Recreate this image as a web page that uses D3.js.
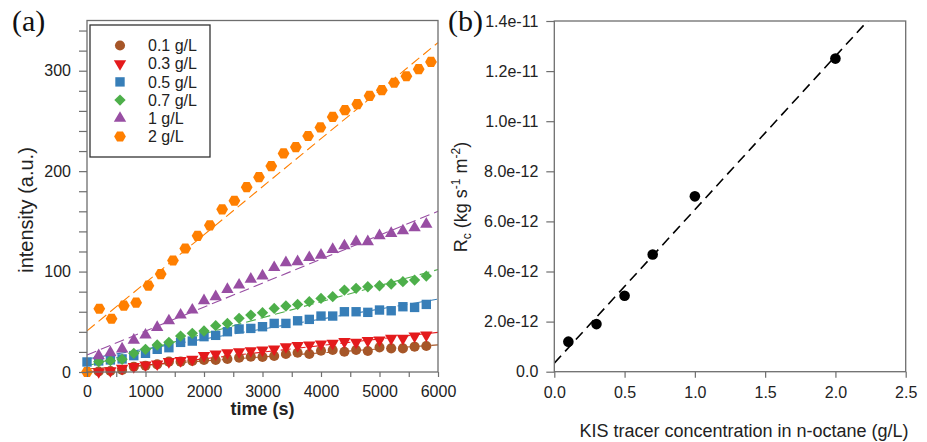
<!DOCTYPE html>
<html><head><meta charset="utf-8">
<script src="https://cdn.jsdelivr.net/npm/d3@7"></script>
<style>
html,body{margin:0;padding:0;background:#fff;}
svg{display:block;font-family:"Liberation Sans",Arial,sans-serif;}
</style></head>
<body><svg id="chart" width="927" height="442"></svg>
<script>
// ---------- Panel (a) data ----------
const seriesNames = ["0.1 g/L","0.3 g/L","0.5 g/L","0.7 g/L","1 g/L","2 g/L"];
const seriesColors = ["#a65628","#e41a1c","#377eb8","#4daf4a","#984ea3","#ff7f00"];
const seriesShapes = ["circle","triangleDown","square","diamond","triangleUp","hexagon"];

const times200 = [200,400,600,800,1000,1200,1400,1600,1800,2000,2200,2400,2600,2800,3000,
                  3200,3400,3600,3800,4000,4200,4400,4600,4800,5000,5200,5400,5600,5800];
const timesBlue = [0,200,400,600,800,1000,1200,1400,1600,1800,2000,2200,2400,2600,2800,3000,
                  3200,3400,3600,3800,4000,4200,4400,4600,4800,5000,5200,5400,5600,5800];
const timesOrange = [0,210,420,630,840,1050,1260,1470,1680,1890,2100,2310,2520,2730,2940,3150,
                  3360,3570,3780,3990,4200,4410,4620,4830,5040,5250,5460,5670,5880];

const val01 = [0.5,1,2,5.3,6.3,7.6,10.3,10.3,10.9,11.9,11.9,12.9,14.3,15.3,15,
               15.9,17.9,19.2,17.9,21.2,21.9,20.2,21.9,20.9,24.5,23.5,23.5,25.2,25.9];
const val03 = [0.3,1.3,3.6,5.3,7,8,10.3,11.3,12.6,16.3,17.9,19.2,20.2,21.2,21.9,
               22.9,25.2,26.2,26.9,27.9,28.5,30.2,29.5,31.2,31.8,33.5,33.5,35.8,36.8];
const val05 = [10,11,12,13,16.3,18.6,22.6,24.2,29.5,30.8,35.2,36.5,40.1,42.8,43.4,45.1,
               48.4,48.4,51,52.4,55.7,55.7,60,60,59.4,61.7,61,65,64.3,67.3];
const val07 = [10.3,11.3,12.6,18.6,22.6,26.9,29.5,35.8,38.5,40.8,46.1,48.4,53.4,56.7,59,
               63.3,65.7,67.3,70,73.3,75,81.6,83.3,84.9,85.9,87.6,89.9,91.5,95.5];
const val1  = [16.3,19.2,22.9,31.8,36.8,44.4,51,56.7,61.7,71,75,82.3,86.6,92.5,95.7,
               104,108.8,109.8,114,116.4,122,125.7,129.7,129.7,135.7,138,140.6,143.6,147.3];
const val2  = [0,63,53,66,69,86,97.5,111,123,135.6,146,162,170.5,184,194,205,217.6,224,235,
               243.5,254,260.7,266.7,275,280.6,288,294.5,301.5,308.8];

// linear fit lines: value at t=0 and at t=6000
const fitStart = [3, 0, 13, 6, 17, 41];
const fitEnd   = [27, 39.5, 72.6, 102, 160, 328];

const xTicksA = [0,1000,2000,3000,4000,5000,6000];
const yTicksA = [0,100,200,300];

// ---------- Panel (b) data ----------
const concB = [0.1,0.3,0.5,0.7,1.0,2.0];
const rcB   = [1.2e-12,1.9e-12,3.03e-12,4.68e-12,7.0e-12,12.5e-12];
const fitB  = {x0:0, y0:0.34e-12, x1:2.5, y1:15.66e-12};
const xTicksB = [0,0.5,1.0,1.5,2.0,2.5];
const yTicksB = [0,2e-12,4e-12,6e-12,8e-12,1e-11,1.2e-11,1.4e-11];
const yTickLabelsB = ["0.0","2.0e-12","4.0e-12","6.0e-12","8.0e-12","1.0e-11","1.2e-11","1.4e-11"];

// ---------- drawing ----------
const svg = d3.select("#chart");
const frameColor = "#6e6e6e";
const textColor = "#222";

const seriesTimes = [times200,times200,timesBlue,times200,times200,timesOrange];
const seriesVals = [val01,val03,val05,val07,val1,val2];

const hexagon = {draw(ctx,size){const r=Math.sqrt(size/(1.5*Math.sqrt(3)));
  for(let i=0;i<6;i++){const a=Math.PI/6+ i*Math.PI/3; const x=r*Math.sin(a), y=-r*Math.cos(a);
  if(i===0)ctx.moveTo(x,y);else ctx.lineTo(x,y);} ctx.closePath();}};
function symbolPath(shape){
  switch(shape){
    case "circle": return {d:d3.symbol(d3.symbolCircle,80)(), rot:0};
    case "triangleDown": return {d:d3.symbol(d3.symbolTriangle,66)(), rot:180};
    case "triangleUp": return {d:d3.symbol(d3.symbolTriangle,66)(), rot:0};
    case "square": return {d:d3.symbol(d3.symbolSquare,88)(), rot:0};
    case "diamond": return {d:d3.symbol(d3.symbolSquare,64)(), rot:45};
    case "hexagon": return {d:d3.symbol(hexagon,90)(), rot:0};
  }
}

// Panel (a)
const ax = d3.scaleLinear().domain([0,6000]).range([87,438]);
const ay = d3.scaleLinear().domain([0,350]).range([372,20.5]);
const ga = svg.append("g");

seriesNames.forEach((n,i)=>{
  ga.append("line").attr("x1",ax(0)).attr("y1",ay(fitStart[i]))
    .attr("x2",ax(6000)).attr("y2",ay(fitEnd[i]))
    .attr("stroke",seriesColors[i]).attr("stroke-width",1.1).attr("stroke-dasharray","10,5");
});
seriesNames.forEach((n,i)=>{
  const s = symbolPath(seriesShapes[i]);
  ga.append("g").selectAll("path").data(seriesVals[i].map((v,k)=>[seriesTimes[i][k],v]))
    .join("path").attr("d",s.d)
    .attr("transform",d=>`translate(${ax(d[0])},${ay(d[1])}) rotate(${s.rot})`)
    .attr("fill",seriesColors[i]);
});
ga.append("rect").attr("x",87).attr("y",ay(350)).attr("width",ax(6000)-87).attr("height",ay(0)-ay(350))
  .attr("fill","none").attr("stroke",frameColor).attr("stroke-width",1.3);
const xAxA = d3.axisBottom(ax).tickValues(d3.range(0,6001,500)).tickSize(5).tickPadding(9)
  .tickFormat(d=> xTicksA.includes(d)? d3.format("d")(d):"");
const gxA = ga.append("g").attr("transform",`translate(0,${ay(0)})`).call(xAxA);
const yAxA = d3.axisLeft(ay).tickValues(d3.range(0,341,20)).tickSize(8).tickPadding(8)
  .tickFormat(d=> yTicksA.includes(d)? d3.format("d")(d):"");
const gyA = ga.append("g").attr("transform",`translate(87,0)`).call(yAxA);
[gxA,gyA].forEach(g=>{g.select(".domain").remove(); g.selectAll("line").attr("stroke",frameColor).attr("stroke-width",1.2);
  g.selectAll("text").attr("font-size",16).attr("fill",textColor).attr("font-family","Liberation Sans, Arial, sans-serif");});

const lg = ga.append("g");
lg.append("rect").attr("x",90).attr("y",25).attr("width",120).attr("height",132)
  .attr("fill","#fff").attr("stroke","#333").attr("stroke-width",1.3);
seriesNames.forEach((n,i)=>{
  const yy = 45.5 + i*18.2;
  const s = symbolPath(seriesShapes[i]);
  lg.append("path").attr("d",s.d).attr("transform",`translate(120,${yy}) rotate(${s.rot})`).attr("fill",seriesColors[i]);
  lg.append("text").attr("x",148).attr("y",yy).attr("dy","0.36em").attr("font-size",16).attr("fill",textColor).text(n);
});
ga.append("text").attr("x",ax(3000)).attr("y",415).attr("text-anchor","middle")
  .attr("font-size",18).attr("font-weight","bold").attr("fill",textColor).text("time (s)");
ga.append("text").attr("transform",`translate(33,210) rotate(-90)`).attr("text-anchor","middle")
  .attr("font-size",20).attr("fill",textColor).text("intensity (a.u.)");
svg.append("text").attr("x",12).attr("y",31).attr("font-family","Liberation Serif, Times New Roman, serif")
  .attr("font-size",30).attr("fill","#111").text("(a)");

// Panel (b)
const bx = d3.scaleLinear().domain([0,2.5]).range([554.3,905.7]);
const by = d3.scaleLinear().domain([0,1.4e-11]).range([371.7,21]);
const gb = svg.append("g");
gb.append("defs").append("clipPath").attr("id","clipB").append("rect")
  .attr("x",bx(0)).attr("y",by(1.4e-11)).attr("width",bx(2.5)-bx(0)).attr("height",by(0)-by(1.4e-11));
gb.append("line").attr("clip-path","url(#clipB)")
  .attr("x1",bx(fitB.x0)).attr("y1",by(fitB.y0)).attr("x2",bx(fitB.x1)).attr("y2",by(fitB.y1))
  .attr("stroke","#000").attr("stroke-width",1.6).attr("stroke-dasharray","10,6");
gb.append("g").selectAll("circle").data(concB.map((c,i)=>[c,rcB[i]])).join("circle")
  .attr("cx",d=>bx(d[0])).attr("cy",d=>by(d[1])).attr("r",5.3).attr("fill","#000");
gb.append("rect").attr("x",bx(0)).attr("y",by(1.4e-11)).attr("width",bx(2.5)-bx(0)).attr("height",by(0)-by(1.4e-11))
  .attr("fill","none").attr("stroke",frameColor).attr("stroke-width",1.3);
const xAxB = d3.axisBottom(bx).tickValues(xTicksB).tickSize(6).tickPadding(9).tickFormat(d3.format(".1f"));
const gxB = gb.append("g").attr("transform",`translate(0,${by(0)})`).call(xAxB);
const yAxB = d3.axisLeft(by).tickValues(yTicksB).tickSize(8).tickPadding(8).tickFormat((d,i)=>yTickLabelsB[i]);
const gyB = gb.append("g").attr("transform",`translate(${bx(0)},0)`).call(yAxB);
[gxB,gyB].forEach(g=>{g.select(".domain").remove(); g.selectAll("line").attr("stroke",frameColor).attr("stroke-width",1.2);
  g.selectAll("text").attr("font-size",16).attr("fill",textColor).attr("font-family","Liberation Sans, Arial, sans-serif");});
gb.append("text").attr("x",744).attr("y",437).attr("text-anchor","middle")
  .attr("font-size",18).attr("fill",textColor).text("KIS tracer concentration in n-octane (g/L)");
const yt = gb.append("text").attr("transform",`translate(467,197) rotate(-90)`).attr("text-anchor","middle")
  .attr("font-size",18).attr("fill",textColor);
yt.append("tspan").text("R");
yt.append("tspan").attr("font-size",12).attr("dy",4).text("c");
yt.append("tspan").attr("dy",-4).text(" (kg s");
yt.append("tspan").attr("font-size",12).attr("dy",-7).text("-1");
yt.append("tspan").attr("dy",7).text(" m");
yt.append("tspan").attr("font-size",12).attr("dy",-7).text("-2");
yt.append("tspan").attr("dy",7).text(")");
svg.append("text").attr("x",448).attr("y",31).attr("font-family","Liberation Serif, Times New Roman, serif")
  .attr("font-size",30).attr("fill","#111").text("(b)");
</script></body></html>
